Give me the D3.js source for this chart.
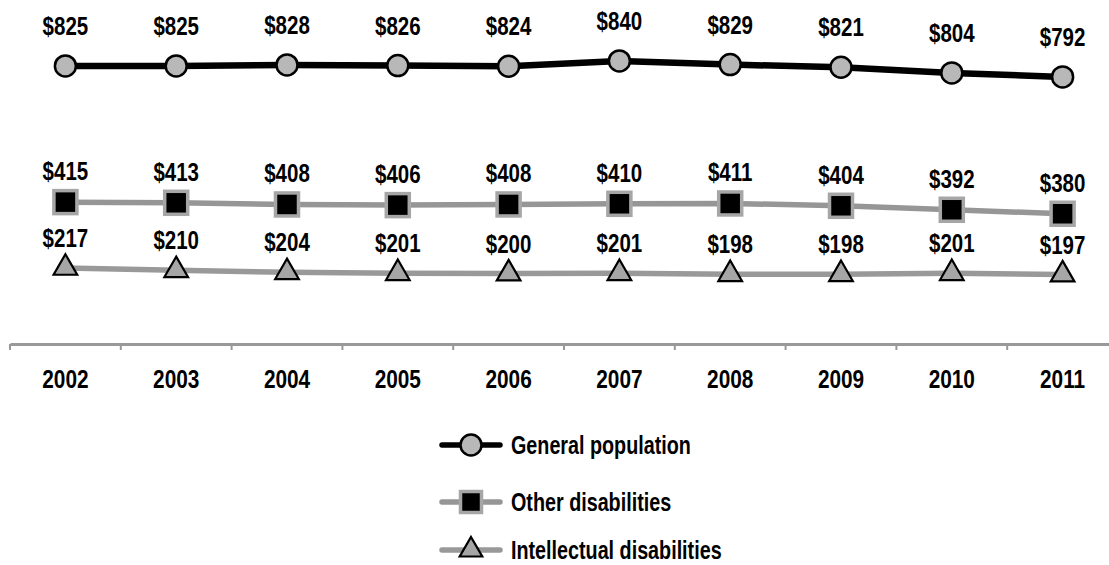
<!DOCTYPE html>
<html>
<head>
<meta charset="utf-8">
<script src="https://cdn.jsdelivr.net/npm/d3@7"></script>
<style>
  body { margin: 0; background: #fff; }
  svg { display: block; font-family: "Liberation Sans", Arial, sans-serif; font-weight: bold; }
</style>
</head>
<body>
<div id="chart"></div>
<script>
const years = ["2002", "2003", "2004", "2005", "2006", "2007", "2008", "2009", "2010", "2011"];
const generalPopulation = [825, 825, 828, 826, 824, 840, 829, 821, 804, 792];
const otherDisabilities = [415, 413, 408, 406, 408, 410, 411, 404, 392, 380];
const intellectualDisabilities = [217, 210, 204, 201, 200, 201, 198, 198, 201, 197];
const seriesNames = ["General population", "Other disabilities", "Intellectual disabilities"];

const width = 1109;
const height = 565;

const svg = d3.select("#chart")
  .append("svg")
  .attr("width", width)
  .attr("height", height);

const x = d3.scaleBand()
  .domain(years)
  .range([10, 1118]);

const y = d3.scaleLinear()
  .domain([0, 900])
  .range([340, 41]);

const cx = (i) => x(years[i]) + x.bandwidth() / 2;

const series = [
  { name: seriesNames[0], values: generalPopulation, line: "#000", lineWidth: 6.5, marker: "circle", size: 21, labelGap: 31 },
  { name: seriesNames[1], values: otherDisabilities, line: "#969696", lineWidth: 5.5, marker: "square", size: 23, labelGap: 22 },
  { name: seriesNames[2], values: intellectualDisabilities, line: "#999", lineWidth: 5.5, marker: "triangle", size: 22, labelGap: 21 },
];

// narrow bold text: no condensed font installed, so squeeze horizontally
function narrowText(g, tx, ty, str, size, squeeze, anchor) {
  return g.append("text")
    .attr("transform", `translate(${tx},${ty}) scale(${squeeze},1)`)
    .attr("text-anchor", anchor || "middle")
    .style("font-size", size + "px")
    .attr("fill", "#000")
    .text(str);
}

// x axis
const axisY = 344;
const xAxis = svg.append("g")
  .attr("transform", `translate(0,${axisY})`)
  .call(d3.axisBottom(x).tickSize(0).tickFormat(""));
xAxis.select(".domain").attr("stroke", "#999").attr("stroke-width", 3);

svg.append("g")
  .selectAll("line")
  .data(years)
  .enter()
  .append("line")
  .attr("x1", (d) => x(d))
  .attr("x2", (d) => x(d))
  .attr("y1", axisY)
  .attr("y2", axisY + 6)
  .attr("stroke", "#999")
  .attr("stroke-width", 2);

const yearG = svg.append("g");
years.forEach((d, i) => narrowText(yearG, cx(i), 388, d, 26, 0.8));

function drawMarker(g, type, size) {
  if (type === "circle") {
    g.append("circle")
      .attr("r", size / 2)
      .attr("fill", "#b8b8b8")
      .attr("stroke", "#000")
      .attr("stroke-width", 2.5);
  } else if (type === "square") {
    g.append("rect")
      .attr("x", -size / 2)
      .attr("y", -size / 2)
      .attr("width", size)
      .attr("height", size)
      .attr("fill", "#000")
      .attr("stroke", "#a6a6a6")
      .attr("stroke-width", 3.5);
  } else {
    g.append("path")
      .attr("d", d3.symbol(d3.symbolTriangle, size * size * 0.5)())
      .attr("fill", "#a6a6a6")
      .attr("stroke", "#000")
      .attr("stroke-width", 2.2);
  }
}

const line = d3.line()
  .x((d, i) => cx(i))
  .y((d) => y(d));

series.forEach((s) => {
  const g = svg.append("g");
  g.append("path")
    .datum(s.values)
    .attr("fill", "none")
    .attr("stroke", s.line)
    .attr("stroke-width", s.lineWidth)
    .attr("d", line);

  g.selectAll("g.mk")
    .data(s.values)
    .enter()
    .append("g")
    .attr("class", "mk")
    .attr("transform", (d, i) => `translate(${cx(i)},${y(d)})`)
    .each(function () { drawMarker(d3.select(this), s.marker, s.size); });

  s.values.forEach((d, i) => narrowText(g, cx(i), y(d) - s.labelGap, `$${d}`, 25, 0.82));
});

// legend
const legend = svg.append("g").attr("transform", "translate(440,0)");
const legendRows = [445, 502, 550];
series.forEach((s, i) => {
  const row = legend.append("g").attr("transform", `translate(0,${legendRows[i]})`);
  row.append("line")
    .attr("x1", 2)
    .attr("x2", 60)
    .attr("stroke", s.line)
    .attr("stroke-width", 5.5)
    .attr("stroke-linecap", "round");
  const mk = row.append("g").attr("transform", "translate(31,0)");
  drawMarker(mk, s.marker, s.marker === "square" ? 21 : 21);
  narrowText(row, 71, 9, s.name, 25, 0.79, "start");
});
</script>
</body>
</html>
